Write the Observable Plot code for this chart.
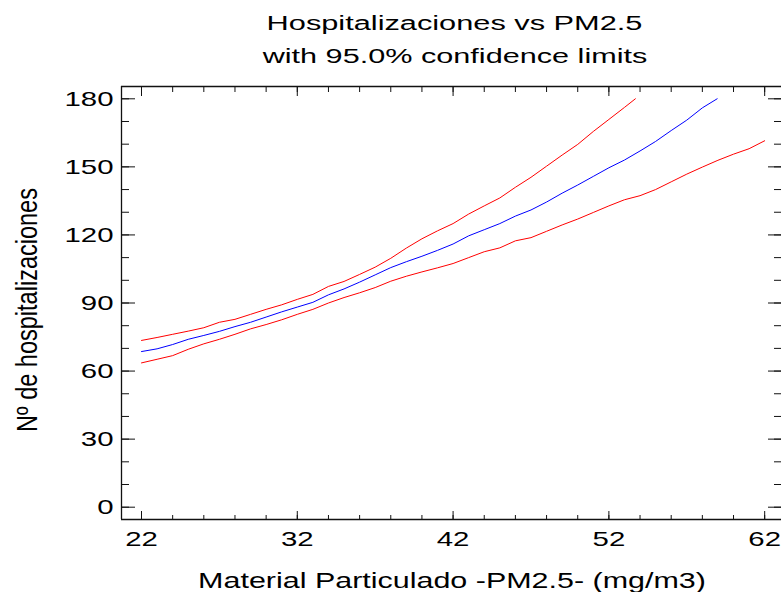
<!DOCTYPE html>
<html><head><meta charset="utf-8">
<script src="https://cdn.jsdelivr.net/npm/d3@7"></script>
<script src="https://cdn.jsdelivr.net/npm/@observablehq/plot@0.6"></script>
<style>html,body{margin:0;padding:0;background:#fff;overflow:hidden}</style>
</head><body><div id="chart"></div>
<script>
const titleLines = ["Hospitalizaciones vs PM2.5", "with 95.0% confidence limits"];
const xLabel = "Material Particulado -PM2.5- (mg/m3)";
const yLabel = "Nº de hospitalizaciones";

const xDomain = [20.716, 63.08];
const yDomain = [-5.42, 185.42];
const xMajor = [22, 32, 42, 52, 62];
const xMinor = [22,24,26,28,30,32,34,36,38,40,42,44,46,48,50,52,54,56,58,60,62];
const yMajor = [0, 30, 60, 90, 120, 150, 180];
const yMinor = [0,10,20,30,40,50,60,70,80,90,100,110,120,130,140,150,160,170,180];

const xUpper = [22,23,24,25,26,27,28,29,30,31,32,33,34,35,36,37,38,39,40,41,42,43,44,45,46,47,48,49,50,51,52,53,53.7];
const upperLimit = [73.5,74.8,76.2,77.6,79.1,81.5,82.8,85.0,87.2,89.2,91.6,93.8,97.3,99.5,102.6,105.8,109.7,114.2,118.3,121.8,125.0,129.2,132.8,136.3,141.0,145.4,150.3,155.2,159.9,165.6,170.9,176.2,180.0];

const xFit = [22,23,24,25,26,27,28,29,30,31,32,33,34,35,36,37,38,39,40,41,42,43,44,45,46,47,48,49,50,51,52,53,54,55,56,57,58,58.95];
const fitted = [68.6,69.8,71.7,74.0,75.7,77.5,79.6,81.5,83.8,86.1,88.2,90.3,93.6,96.2,99.2,102.4,105.6,108.2,110.6,113.2,116.0,119.6,122.3,125.0,128.3,131.0,134.5,138.4,142.0,145.8,149.6,153.0,157.0,161.2,166.0,170.6,176.0,180.0];

const xLower = [22,23,24,25,26,27,28,29,30,31,32,33,34,35,36,37,38,39,40,41,42,43,44,45,46,47,48,49,50,51,52,53,54,55,56,57,58,59,60,61,62];
const lowerLimit = [63.6,65.2,66.8,69.6,72.0,74.0,76.2,78.6,80.5,82.6,85.0,87.2,90.0,92.4,94.5,96.8,99.6,101.8,103.7,105.5,107.4,110.0,112.6,114.3,117.4,118.8,121.6,124.4,127.0,129.9,132.8,135.5,137.3,140.0,143.4,146.8,149.9,152.9,155.6,158.0,161.5];

const font = "'Liberation Sans', Arial, Helvetica, sans-serif";
const ink = "#111";

const svg = Plot.plot({
  width: 781,
  height: 592,
  marginLeft: 121,
  marginRight: 0,
  marginTop: 86,
  marginBottom: 73,
  style: {fontFamily: font, background: "#fff", color: ink, overflow: "visible"},
  x: {domain: xDomain},
  y: {domain: yDomain},
  marks: [
    Plot.ruleY(yDomain, {stroke: ink, strokeWidth: 1.3}),
    Plot.ruleX([xDomain[0]], {stroke: ink, strokeWidth: 1.3}),
    // left
    Plot.axisY(yMinor, {anchor: "left", tickSize: -8, fill: "none", label: null, stroke: ink}),
    Plot.axisY(yMajor, {anchor: "left", tickSize: -14, fill: "none", label: null, stroke: ink}),
    Plot.axisY(yMajor, {anchor: "left", tickSize: 0, tickPadding: 8, fontSize: 21, label: null, fill: "#000"}),
    // right
    Plot.axisY(yMinor, {anchor: "right", tickSize: -8, fill: "none", label: null, stroke: ink}),
    Plot.axisY(yMajor, {anchor: "right", tickSize: -14, fill: "none", label: null, stroke: ink}),
    // bottom
    Plot.axisX(xMinor, {anchor: "bottom", tickSize: -4, fill: "none", label: null, stroke: ink}),
    Plot.axisX(xMajor, {anchor: "bottom", tickSize: -8, fill: "none", label: null, stroke: ink}),
    Plot.axisX(xMajor, {anchor: "bottom", tickSize: 0, tickPadding: 12, fontSize: 21, label: null, fill: "#000"}),
    // top
    Plot.axisX(xMinor, {anchor: "top", tickSize: -5, fill: "none", label: null, stroke: ink}),
    Plot.axisX(xMajor, {anchor: "top", tickSize: -9, fill: "none", label: null, stroke: ink}),
    // curves
    Plot.line(upperLimit, {x: xUpper, y: upperLimit, stroke: "#ff0000", strokeWidth: 1}),
    Plot.line(fitted, {x: xFit, y: fitted, stroke: "#0000ff", strokeWidth: 1}),
    Plot.line(lowerLimit, {x: xLower, y: lowerLimit, stroke: "#ff0000", strokeWidth: 1})
  ]
});

document.getElementById("chart").appendChild(svg);

// horizontally stretched text, as in the reference
d3.select(svg).selectAll('g[aria-label="y-axis tick label"] text, g[aria-label="x-axis tick label"] text')
  .attr("transform", function() { return (this.getAttribute("transform") || "") + " scale(1.4,1)"; });

const s = d3.select(svg);
const addText = (txt, x, y, size, len, rotate) => {
  const t = s.append("text")
    .attr("text-anchor", "middle")
    .attr("font-family", font)
    .attr("font-size", size)
    .attr("fill", "#000")
    .text(txt);
  const natural = t.node().getComputedTextLength() || len;
  const k = len / natural;
  t.attr("transform", `translate(${x},${y})` + (rotate ? ` rotate(-90) scale(${k},1)` : ` scale(${k},1)`));
};
addText(titleLines[0], 454.5, 29.5, 20, 376);
addText(titleLines[1], 455, 63, 20, 385);
addText(xLabel, 452, 588, 21.5, 508);
addText(yLabel, 37, 310, 29, 244, true);
</script>
</body></html>
